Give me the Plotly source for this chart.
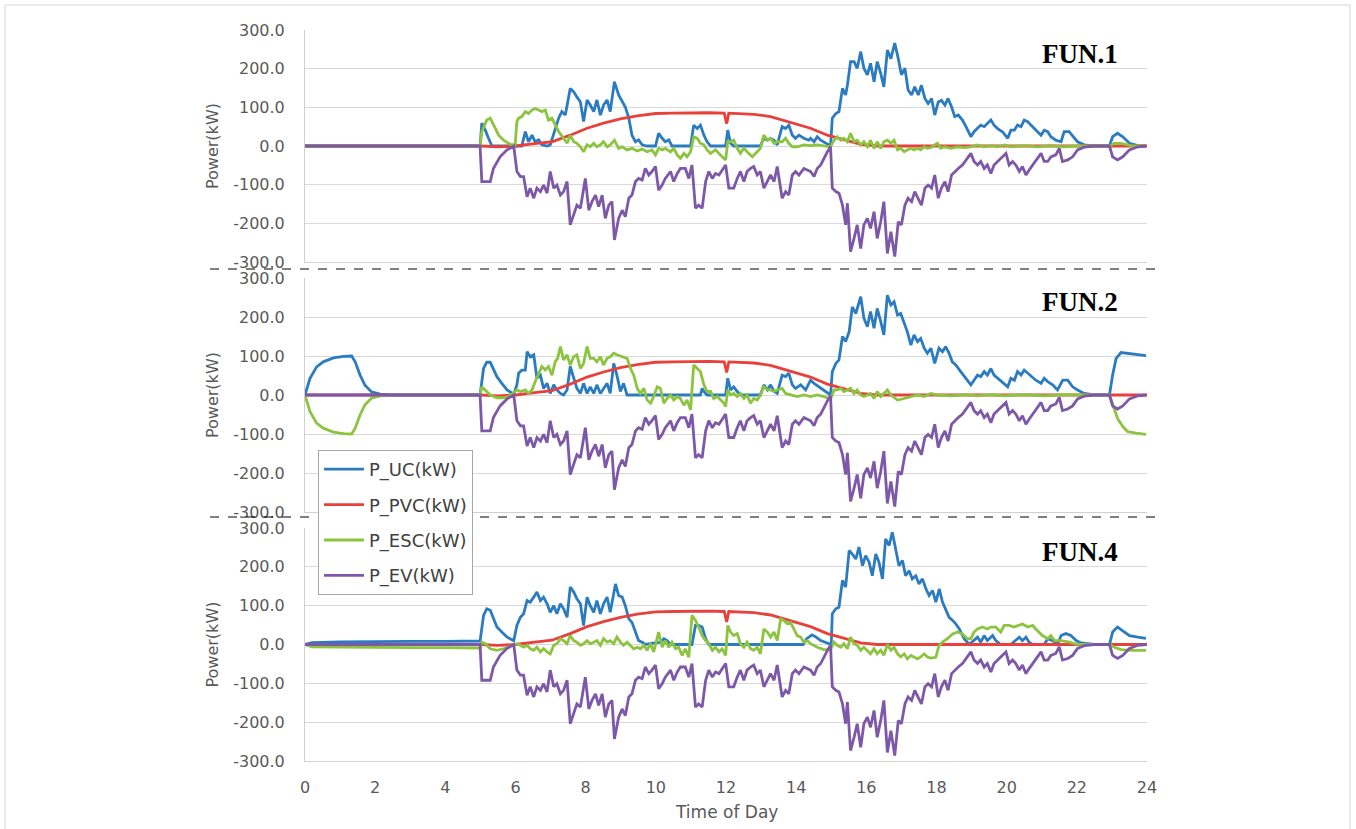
import plotly.graph_objects as go

# ---- data: (hour of day, power in kW) ----
# EV charging power and PV converter output are common to all three schemes
P_EV = [
    (0, 0), (4.99, 0), (5.04, -92), (5.28, -92), (5.37, -58), (5.56, -28), (5.76, -10), (5.95, 0),
    (6.04, -66), (6.14, -79), (6.23, -79), (6.33, -131), (6.42, -109), (6.52, -135), (6.61, -109),
    (6.71, -118), (6.80, -101), (6.90, -122), (6.99, -66), (7.09, -109), (7.18, -101), (7.28, -127),
    (7.37, -118), (7.47, -92), (7.56, -204), (7.66, -178), (7.75, -153), (7.85, -161), (7.99, -84),
    (8.09, -166), (8.18, -144), (8.28, -127), (8.37, -157), (8.47, -127), (8.56, -187), (8.66, -153),
    (8.75, -144), (8.82, -243), (8.94, -187), (9.04, -166), (9.13, -183), (9.23, -135), (9.32, -127),
    (9.42, -92), (9.51, -84), (9.61, -88), (9.70, -58), (9.80, -75), (9.89, -66), (9.99, -53),
    (10.08, -114), (10.18, -101), (10.27, -84), (10.42, -66), (10.51, -92), (10.61, -71), (10.70, -58),
    (10.84, -58), (10.94, -84), (11.03, -49), (11.13, -161), (11.22, -153), (11.32, -161), (11.42, -92),
    (11.51, -66), (11.61, -84), (11.70, -71), (11.80, -75), (11.89, -62), (11.99, -49), (12.08, -109),
    (12.22, -109), (12.32, -84), (12.41, -66), (12.51, -92), (12.60, -66), (12.70, -58), (12.79, -53),
    (12.89, -75), (12.98, -66), (13.08, -109), (13.18, -92), (13.27, -75), (13.37, -92), (13.46, -53),
    (13.60, -135), (13.70, -118), (13.79, -127), (13.89, -75), (13.98, -66), (14.08, -75), (14.22, -58),
    (14.41, -66), (14.51, -79), (14.60, -58), (14.70, -49), (14.79, -32), (14.89, -15), (14.98, -2),
    (15.03, -109), (15.13, -118), (15.22, -122), (15.32, -153), (15.41, -204), (15.46, -148),
    (15.55, -273), (15.65, -239), (15.74, -204), (15.84, -265), (15.93, -204), (16.03, -187),
    (16.12, -213), (16.22, -170), (16.31, -239), (16.41, -196), (16.50, -144), (16.60, -278),
    (16.70, -222), (16.81, -286), (16.91, -196), (17.00, -204), (17.10, -153), (17.19, -135),
    (17.29, -144), (17.38, -118), (17.48, -135), (17.57, -153), (17.67, -109), (17.76, -101),
    (17.86, -109), (17.95, -75), (18.05, -135), (18.14, -109), (18.24, -92), (18.33, -118),
    (18.43, -75), (18.52, -66), (18.62, -58), (18.74, -49), (18.84, -36), (18.98, -19), (19.07, -40),
    (19.17, -49), (19.26, -40), (19.36, -58), (19.45, -49), (19.55, -71), (19.64, -49), (19.74, -40),
    (19.88, -28), (19.98, -19), (20.07, -49), (20.17, -40), (20.26, -49), (20.36, -66), (20.45, -53),
    (20.55, -75), (20.64, -62), (20.74, -49), (20.88, -32), (20.98, -19), (21.07, -40), (21.17, -40),
    (21.26, -28), (21.40, -23), (21.50, -6), (21.59, -40), (21.74, -36), (21.88, -28), (22.02, -10),
    (22.21, -3), (22.50, 0), (22.93, 0), (23.02, -28), (23.16, -36), (23.31, -28), (23.50, -10),
    (23.74, -2), (23.97, 0),
]

P_PVC = [
    (0, 0), (5.0, 0), (5.5, -2), (6.0, 0), (6.61, 7), (7.04, 11), (7.56, 28), (8.04, 46), (8.51, 59),
    (8.99, 70), (9.47, 78), (9.99, 84), (10.5, 85), (11.0, 86), (11.5, 86), (11.95, 85), (12.02, 58),
    (12.08, 85), (12.5, 84), (12.8, 82), (13.27, 76), (13.75, 63), (14.22, 50), (14.41, 46),
    (14.89, 28), (15.36, 16), (15.84, 4), (16.3, 0), (24, 0),
]

# FUN.1
P_UC_1 = [
    (0, 0), (4.99, 0), (5.04, 59), (5.14, 41), (5.23, 20), (5.33, 0), (6.18, 0), (6.28, 37), (6.37, 11),
    (6.47, 28), (6.56, 11), (6.66, 16), (6.75, 3), (6.90, 0), (6.99, 3), (7.13, 46), (7.23, 72),
    (7.32, 89), (7.42, 80), (7.56, 149), (7.66, 140), (7.75, 127), (7.85, 114), (7.94, 63), (8.04, 119),
    (8.13, 106), (8.23, 89), (8.32, 119), (8.42, 80), (8.51, 106), (8.61, 119), (8.70, 89), (8.82, 166),
    (8.94, 132), (9.04, 114), (9.13, 101), (9.23, 72), (9.32, 28), (9.42, 11), (9.51, 16), (9.61, 3),
    (9.75, 0), (9.99, 0), (10.08, 33), (10.18, 20), (10.27, 11), (10.37, 16), (10.46, 0), (10.99, 0),
    (11.08, 54), (11.18, 45), (11.27, 54), (11.37, 28), (11.46, 11), (11.56, 0), (11.99, 0),
    (12.05, 41), (12.13, 7), (12.22, 0), (12.98, 0), (13.08, 20), (13.18, 15), (13.27, 20),
    (13.37, 15), (13.46, 3), (13.60, 50), (13.70, 45), (13.79, 54), (13.89, 28), (13.98, 20),
    (14.08, 28), (14.22, 20), (14.36, 15), (14.41, 20), (14.51, 11), (14.60, 24), (14.70, 15),
    (14.84, 7), (14.98, 0), (15.03, 72), (15.13, 84), (15.22, 89), (15.32, 149), (15.41, 132),
    (15.46, 157), (15.55, 218), (15.65, 218), (15.74, 201), (15.84, 244), (15.93, 201), (16.03, 184),
    (16.12, 214), (16.22, 166), (16.31, 218), (16.41, 188), (16.50, 153), (16.60, 248), (16.70, 226),
    (16.81, 266), (16.91, 226), (17.00, 184), (17.10, 201), (17.19, 145), (17.29, 132), (17.38, 153),
    (17.48, 132), (17.57, 157), (17.67, 123), (17.76, 110), (17.86, 123), (17.95, 80), (18.05, 114),
    (18.14, 118), (18.24, 106), (18.33, 123), (18.43, 101), (18.52, 76), (18.62, 80), (18.74, 67),
    (18.84, 50), (18.98, 24), (19.07, 37), (19.17, 45), (19.26, 54), (19.36, 50), (19.45, 59),
    (19.55, 67), (19.64, 54), (19.74, 45), (19.88, 37), (20.03, 20), (20.12, 41), (20.22, 41),
    (20.31, 54), (20.41, 50), (20.50, 67), (20.60, 63), (20.69, 54), (20.83, 41), (20.98, 28),
    (21.07, 41), (21.17, 37), (21.26, 24), (21.40, 15), (21.55, 11), (21.64, 37), (21.78, 37),
    (21.93, 20), (22.02, 11), (22.21, 3), (22.50, 0), (22.93, 0), (23.02, 24), (23.16, 33),
    (23.31, 24), (23.50, 7), (23.74, 1), (23.97, 0),
]

P_ESC_1 = [
    (0, 0), (4.99, 0), (5.04, 37), (5.18, 67), (5.28, 72), (5.37, 54), (5.52, 28), (5.66, 15),
    (5.85, 4), (5.99, 3), (6.04, 63), (6.09, 72), (6.18, 76), (6.28, 89), (6.37, 84), (6.47, 93),
    (6.56, 97), (6.66, 93), (6.75, 89), (6.85, 93), (6.94, 67), (7.04, 72), (7.13, 54), (7.23, 37),
    (7.37, 20), (7.47, 7), (7.56, 28), (7.66, 11), (7.75, 7), (7.85, -2), (7.94, -15), (8.04, 3),
    (8.13, -2), (8.23, 7), (8.32, -2), (8.42, 3), (8.51, 11), (8.61, -2), (8.70, 3), (8.82, 15),
    (8.94, -6), (9.04, -2), (9.18, -10), (9.32, -6), (9.47, -13), (9.61, -8), (9.75, -15), (9.89, -10),
    (9.99, -23), (10.08, -6), (10.18, -10), (10.27, -6), (10.42, -15), (10.51, -6), (10.61, -23),
    (10.70, -32), (10.80, -19), (10.89, -28), (10.99, -15), (11.08, 24), (11.18, 20), (11.27, 7),
    (11.37, 3), (11.46, -10), (11.56, -19), (11.70, -10), (11.84, -23), (11.99, -36), (12.05, 11),
    (12.13, 11), (12.22, 15), (12.32, -6), (12.41, -19), (12.51, -6), (12.60, -15), (12.75, -28),
    (12.89, -15), (12.98, -6), (13.08, 28), (13.18, 15), (13.27, 20), (13.37, 7), (13.46, 11),
    (13.60, 11), (13.70, 20), (13.79, 7), (13.89, -2), (14.03, -2), (14.22, 3), (14.41, 1), (14.60, 3),
    (14.79, 1), (14.98, -2), (15.08, 15), (15.17, 24), (15.27, 15), (15.36, 20), (15.46, 11),
    (15.55, 33), (15.65, 11), (15.74, 15), (15.84, 3), (15.93, 11), (16.03, -2), (16.12, 15),
    (16.22, -6), (16.31, 11), (16.41, -6), (16.50, 11), (16.60, 15), (16.70, 7), (16.79, 15),
    (16.89, -10), (16.98, -6), (17.08, -15), (17.17, -10), (17.27, -6), (17.36, -10), (17.46, -6),
    (17.55, -10), (17.65, -2), (17.74, -6), (17.84, -4), (18.03, 7), (18.12, -6), (18.22, -2),
    (18.41, -6), (18.60, -2), (18.79, -4), (18.98, -2), (19.17, 3), (19.36, -2), (19.55, 1),
    (19.74, -2), (19.93, 3), (20.12, -2), (20.50, 1), (20.88, -2), (21.26, 1), (21.64, -2),
    (22.02, 0), (22.93, 0), (23.07, 7), (23.26, 7), (23.55, 1), (23.97, 0),
]

# FUN.2
P_UC_2 = [
    (0, 0), (0.14, 42), (0.33, 72), (0.52, 85), (0.81, 95), (1.10, 99), (1.33, 100), (1.43, 85),
    (1.57, 51), (1.71, 25), (1.90, 8), (2.14, 2), (2.43, 0), (4.99, 0), (5.09, 68), (5.18, 84),
    (5.28, 84), (5.37, 68), (5.47, 47), (5.61, 30), (5.76, 13), (5.95, 2), (6.04, 26), (6.09, 56),
    (6.18, 64), (6.28, 64), (6.33, 111), (6.42, 98), (6.52, 103), (6.61, 43), (6.71, 51), (6.80, 17),
    (6.90, 30), (6.99, 4), (7.09, 26), (7.18, 13), (7.28, 4), (7.37, 0), (7.47, 13), (7.56, 73),
    (7.66, 43), (7.75, 17), (7.85, 4), (7.94, 30), (8.04, 4), (8.13, 21), (8.23, 4), (8.32, 26),
    (8.42, 4), (8.51, 17), (8.61, 30), (8.70, 4), (8.80, 81), (8.89, 51), (8.99, 9), (9.08, 30),
    (9.18, 0), (11.27, 0), (11.32, 17), (11.37, 9), (11.46, 0), (11.99, 0), (12.05, 43), (12.13, 13),
    (12.22, 21), (12.32, 9), (12.41, 0), (12.98, 0), (13.08, 26), (13.18, 13), (13.27, 26),
    (13.37, 9), (13.46, 4), (13.60, 51), (13.70, 47), (13.79, 56), (13.89, 26), (13.98, 17),
    (14.13, 26), (14.27, 13), (14.41, 38), (14.51, 30), (14.60, 24), (14.79, 13), (14.98, 0),
    (15.03, 60), (15.13, 81), (15.22, 90), (15.32, 150), (15.41, 137), (15.51, 162), (15.60, 226),
    (15.70, 209), (15.84, 252), (15.93, 197), (16.03, 175), (16.12, 214), (16.22, 171), (16.31, 222),
    (16.41, 188), (16.50, 154), (16.60, 256), (16.70, 231), (16.79, 239), (16.89, 205), (16.98, 209),
    (17.08, 184), (17.17, 162), (17.27, 128), (17.36, 154), (17.46, 137), (17.55, 145), (17.65, 120),
    (17.74, 107), (17.84, 120), (17.95, 81), (18.07, 120), (18.17, 111), (18.26, 124), (18.36, 107),
    (18.45, 85), (18.55, 77), (18.69, 60), (18.84, 43), (18.98, 26), (19.07, 38), (19.17, 51),
    (19.26, 47), (19.36, 60), (19.45, 51), (19.55, 68), (19.64, 51), (19.74, 43), (19.88, 34),
    (20.03, 21), (20.12, 43), (20.22, 38), (20.31, 60), (20.41, 51), (20.50, 64), (20.60, 56),
    (20.69, 47), (20.83, 38), (20.98, 30), (21.07, 43), (21.17, 34), (21.31, 26), (21.45, 13),
    (21.60, 38), (21.74, 38), (21.88, 21), (22.02, 13), (22.21, 4), (22.50, 0), (22.93, 0),
    (23.02, 51), (23.12, 94), (23.26, 109), (23.45, 107), (23.74, 103), (23.97, 101),
]

P_ESC_2 = [
    (0, 0), (0.14, -42), (0.33, -72), (0.52, -85), (0.81, -95), (1.10, -99), (1.33, -100),
    (1.43, -85), (1.57, -51), (1.71, -25), (1.90, -8), (2.14, -2), (2.43, 0), (4.99, 0), (5.04, 21),
    (5.14, 13), (5.28, 0), (5.47, -7), (5.66, -7), (5.85, -2), (6.04, 13), (6.14, 9), (6.28, 13),
    (6.37, 4), (6.47, 13), (6.56, 34), (6.66, 56), (6.75, 73), (6.85, 64), (6.94, 73), (7.04, 51),
    (7.13, 85), (7.20, 94), (7.28, 124), (7.37, 90), (7.47, 103), (7.56, 77), (7.66, 98), (7.75, 103),
    (7.85, 68), (7.94, 81), (8.04, 124), (8.13, 94), (8.23, 94), (8.32, 85), (8.42, 98), (8.51, 77),
    (8.61, 94), (8.70, 98), (8.80, 107), (8.89, 103), (9.08, 98), (9.18, 94), (9.28, 68), (9.37, 51),
    (9.47, 17), (9.56, 4), (9.66, 17), (9.75, -13), (9.85, -21), (9.94, -4), (10.04, 21), (10.13, 17),
    (10.23, -21), (10.32, -9), (10.42, 0), (10.51, -13), (10.61, -4), (10.70, -9), (10.80, -26),
    (10.89, -13), (10.99, -38), (11.08, 77), (11.18, 68), (11.27, 60), (11.37, 26), (11.46, 9),
    (11.56, 9), (11.65, -9), (11.75, -4), (11.84, -13), (11.94, -21), (11.99, -30), (12.05, 13),
    (12.13, 0), (12.22, 4), (12.32, -4), (12.41, 4), (12.51, -9), (12.60, 0), (12.70, -21),
    (12.79, -9), (12.89, -13), (12.98, 0), (13.08, 21), (13.18, 13), (13.27, 13), (13.37, 9),
    (13.46, 13), (13.60, 17), (13.70, 4), (13.84, 0), (14.03, -4), (14.22, 0), (14.41, -4),
    (14.60, 0), (14.79, -4), (14.98, -10), (15.08, 13), (15.17, 13), (15.27, 17), (15.36, 9),
    (15.46, 13), (15.55, 17), (15.65, 4), (15.74, 13), (15.84, 0), (15.93, -4), (16.03, 0),
    (16.12, 4), (16.22, -9), (16.31, 9), (16.41, -4), (16.50, 4), (16.60, 13), (16.70, 0),
    (16.89, -13), (17.08, -9), (17.27, -4), (17.46, 0), (17.65, -4), (17.84, 4), (18.03, 0),
    (18.41, -2), (18.79, 1), (19.17, -2), (19.55, 1), (19.93, -2), (20.50, 1), (21.07, -2),
    (21.64, 1), (22.02, 0), (22.93, 0), (23.07, -34), (23.16, -60), (23.31, -81), (23.45, -94),
    (23.69, -98), (23.97, -101),
]

# FUN.4
P_UC_4 = [
    (0, 0), (0.2, 5), (1.0, 7), (2.0, 8), (3.0, 8), (4.0, 8), (4.99, 9), (5.09, 75), (5.18, 92),
    (5.28, 88), (5.37, 66), (5.47, 45), (5.61, 32), (5.76, 19), (5.95, 10), (6.04, 49), (6.14, 70),
    (6.23, 79), (6.33, 113), (6.42, 109), (6.52, 122), (6.61, 135), (6.71, 113), (6.80, 122),
    (6.90, 105), (6.99, 83), (7.09, 100), (7.18, 79), (7.28, 105), (7.37, 92), (7.47, 70), (7.56, 148),
    (7.66, 135), (7.75, 118), (7.85, 105), (7.94, 49), (8.04, 122), (8.13, 100), (8.23, 83),
    (8.32, 113), (8.42, 79), (8.51, 105), (8.61, 122), (8.70, 83), (8.85, 156), (8.94, 126),
    (9.04, 122), (9.13, 100), (9.23, 66), (9.32, 57), (9.42, 32), (9.51, 10), (9.61, 6), (9.70, 0),
    (10.13, 6), (10.23, 15), (10.32, 10), (10.42, 0), (11.03, 0), (11.13, 49), (11.22, 49),
    (11.32, 45), (11.42, 15), (11.51, 0), (14.2, 0), (14.3, 15), (14.45, 25), (14.55, 20), (14.7, 10),
    (14.9, 3), (15.0, 0), (15.03, 79), (15.13, 92), (15.22, 96), (15.32, 165), (15.41, 148),
    (15.51, 242), (15.60, 233), (15.70, 220), (15.79, 251), (15.89, 203), (15.98, 229), (16.08, 212),
    (16.17, 177), (16.27, 233), (16.36, 212), (16.46, 169), (16.55, 272), (16.65, 255), (16.74, 289),
    (16.84, 246), (16.93, 203), (17.03, 216), (17.12, 177), (17.22, 190), (17.31, 169), (17.41, 177),
    (17.50, 156), (17.60, 169), (17.70, 143), (17.79, 126), (17.89, 139), (17.98, 109), (18.08, 143),
    (18.17, 109), (18.27, 88), (18.36, 70), (18.46, 62), (18.55, 53), (18.65, 40), (18.79, 15),
    (18.93, 0), (19.07, 10), (19.17, 19), (19.26, 6), (19.36, 23), (19.45, 10), (19.60, 23),
    (19.69, 10), (19.83, 0), (20.12, 0), (20.26, 10), (20.36, 19), (20.45, 10), (20.55, 19),
    (20.64, 6), (20.74, 0), (21.07, 0), (21.17, 15), (21.31, 10), (21.45, 0), (21.55, 23), (21.69, 28),
    (21.83, 23), (21.98, 10), (22.12, 4), (22.50, 0), (22.93, 0), (23.02, 32), (23.16, 45),
    (23.31, 36), (23.50, 23), (23.74, 19), (23.97, 16),
]

P_ESC_4 = [
    (0, 0), (0.2, -6), (1.0, -7), (2.0, -8), (3.0, -8), (4.0, -8), (4.99, -9), (5.04, 6), (5.14, 2),
    (5.28, -11), (5.47, -15), (5.66, -11), (5.85, -4), (6.04, 2), (6.14, -2), (6.23, -7), (6.33, -2),
    (6.42, -11), (6.52, -15), (6.61, -7), (6.71, -19), (6.80, -11), (6.90, -19), (6.99, -24),
    (7.09, -2), (7.18, 2), (7.28, 15), (7.37, 10), (7.47, 2), (7.56, 23), (7.66, 10), (7.75, 6),
    (7.85, -2), (7.94, 2), (8.04, 10), (8.13, 2), (8.23, 6), (8.32, 10), (8.42, -2), (8.51, 15),
    (8.61, 6), (8.70, 10), (8.80, 2), (8.89, 19), (8.99, 6), (9.08, -2), (9.18, 6), (9.28, -2),
    (9.37, -11), (9.47, -7), (9.56, -11), (9.66, -2), (9.75, -15), (9.85, 2), (9.94, -19), (10.08, 32),
    (10.18, -7), (10.27, 10), (10.37, -7), (10.46, 6), (10.56, -11), (10.65, -7), (10.75, -28),
    (10.84, -11), (10.94, -33), (11.03, 75), (11.13, 62), (11.22, 45), (11.32, 23), (11.42, 10),
    (11.51, 2), (11.61, -15), (11.70, -7), (11.80, -19), (11.89, -11), (11.99, -28), (12.05, 49),
    (12.13, 32), (12.22, 23), (12.32, 28), (12.41, 2), (12.51, -7), (12.60, 6), (12.70, -11),
    (12.79, -15), (12.89, -7), (12.98, -24), (13.08, 40), (13.18, 32), (13.27, 19), (13.37, 32),
    (13.46, 10), (13.56, 66), (13.65, 62), (13.75, 53), (13.84, 57), (13.94, 40), (14.03, 23),
    (14.13, 19), (14.22, 6), (14.32, 10), (14.41, 2), (14.60, -7), (14.79, -13), (14.98, -13),
    (15.08, 6), (15.17, -2), (15.27, -7), (15.36, 2), (15.46, -11), (15.55, 19), (15.65, 2),
    (15.74, -2), (15.84, -15), (15.93, -7), (16.03, -15), (16.12, -24), (16.22, -11), (16.31, -24),
    (16.41, -15), (16.50, -28), (16.60, 0), (16.70, -15), (16.79, -7), (16.89, -24), (16.98, -32),
    (17.08, -24), (17.17, -37), (17.27, -28), (17.36, -32), (17.46, -37), (17.55, -32), (17.65, -24),
    (17.74, -32), (17.84, -35), (17.98, -33), (18.07, -3), (18.17, 6), (18.31, 15), (18.46, 27),
    (18.60, 32), (18.74, 27), (18.88, 15), (18.98, 15), (19.07, 32), (19.17, 40), (19.31, 45),
    (19.45, 40), (19.55, 45), (19.69, 45), (19.83, 32), (19.93, 49), (20.07, 49), (20.21, 45),
    (20.36, 49), (20.45, 53), (20.60, 45), (20.74, 49), (20.83, 40), (20.93, 32), (21.02, 23),
    (21.17, 15), (21.26, 23), (21.36, 10), (21.55, 10), (21.79, 6), (21.93, 2), (22.12, 0),
    (22.93, 0), (23.07, -7), (23.26, -13), (23.55, -15), (23.97, -15),
]

PANELS = [
    ("FUN.1", P_UC_1, P_ESC_1),
    ("FUN.2", P_UC_2, P_ESC_2),
    ("FUN.4", P_UC_4, P_ESC_4),
]

SERIES_NAMES = ["P_UC(kW)", "P_PVC(kW)", "P_ESC(kW)", "P_EV(kW)"]
COLORS = ["#2A7BC0", "#E8403A", "#8CC43F", "#7D58A8"]
X_TICKS = list(range(0, 25, 2))
Y_TICKS = [300, 200, 100, 0, -100, -200, -300]
# tick text written with a plain hyphen for negative values
Y_TICK_TEXT = ["%.1f" % v for v in Y_TICKS]

# ---- layout geometry (figure pixels) ----
W, H = 1356, 829
PLOT_X = (305, 1147)
PANEL_Y = [(30, 262), (278, 512), (528, 761)]   # top, bottom of each plot area
SANS = "DejaVu Sans, Verdana, sans-serif"


def px_x(px):
    return px / W


def px_y(py):
    return 1 - py / H


fig = go.Figure()

for i, (label, uc, esc) in enumerate(PANELS):
    ax = "" if i == 0 else str(i + 1)
    series = [uc, P_PVC, esc, P_EV]
    for name, color, data in zip(SERIES_NAMES, COLORS, series):
        t, p = zip(*data)
        fig.add_trace(go.Scatter(
            x=t, y=p, mode="lines", name=name,
            line=dict(color=color, width=2.8),
            xaxis="x" + ax, yaxis="y" + ax,
            showlegend=(i == 0), legendgroup=name,
        ))

axis_font = dict(family=SANS, size=16, color="#595959")
layout = dict(
    width=W, height=H,
    margin=dict(l=0, r=0, t=0, b=0, autoexpand=False),
    paper_bgcolor="white", plot_bgcolor="white",
    showlegend=True,
    legend=dict(
        x=px_x(318), y=px_y(450), xanchor="left", yanchor="top",
        bgcolor="white", bordercolor="#A6A6A6", borderwidth=1,
        font=dict(family=SANS, size=18, color="#404040"),
        tracegroupgap=9, itemwidth=40,
    ),
)

for i, (top, bot) in enumerate(PANEL_Y):
    ax = "" if i == 0 else str(i + 1)
    last = i == len(PANEL_Y) - 1
    layout["xaxis" + ax] = dict(
        domain=[px_x(PLOT_X[0]), px_x(PLOT_X[1])],
        anchor="y" + ax, range=[0, 24], tickvals=X_TICKS,
        showticklabels=last, showgrid=False, zeroline=False, automargin=False,
        showline=True, linecolor="#D0D0D0", linewidth=1,
        tickfont=axis_font, ticks="", ticklabelstandoff=12,
    )
    layout["yaxis" + ax] = dict(
        domain=[px_y(bot), px_y(top)],
        anchor="x" + ax, range=[-300, 300], tickvals=Y_TICKS, ticktext=Y_TICK_TEXT,
        showgrid=True, gridcolor="#D9D9D9", gridwidth=1,
        zeroline=False, showline=True, linecolor="#D0D0D0", linewidth=1, automargin=False,
        tickfont=axis_font, ticks="", ticklabelstandoff=16,
    )

fig.update_layout(**layout)

annotations = []
for i, (label, _, _) in enumerate(PANELS):
    top, bot = PANEL_Y[i]
    annotations.append(dict(
        text="Power(kW)", textangle=-90, showarrow=False,
        xref="paper", yref="paper", x=px_x(212), y=px_y((top + bot) / 2),
        xanchor="center", yanchor="middle",
        font=dict(family=SANS, size=16, color="#595959"),
    ))
    annotations.append(dict(
        text="<b>%s</b>" % label, showarrow=False,
        xref="paper", yref="paper", x=px_x(1080), y=px_y(top + 24),
        xanchor="center", yanchor="middle",
        font=dict(family="Liberation Serif, Times New Roman, serif", size=27, color="black"),
    ))
annotations.append(dict(
    text="Time of Day", showarrow=False,
    xref="paper", yref="paper", x=px_x(726), y=px_y(812),
    xanchor="center", yanchor="middle",
    font=dict(family=SANS, size=17, color="#595959"),
))
fig.update_layout(annotations=annotations)

shapes = [
    # outer frame of the figure
    dict(type="rect", xref="paper", yref="paper",
         x0=px_x(5), x1=px_x(1350), y0=-0.02, y1=px_y(5),
         line=dict(color="#D6D6D6", width=1), layer="below"),
]
for sep in (269, 517):
    shapes.append(dict(
        type="line", xref="paper", yref="paper",
        x0=px_x(210), x1=px_x(1157), y0=px_y(sep), y1=px_y(sep),
        line=dict(color="black", width=1, dash="dash"),
    ))
fig.update_layout(shapes=shapes)

fig.write_html("out.html")
